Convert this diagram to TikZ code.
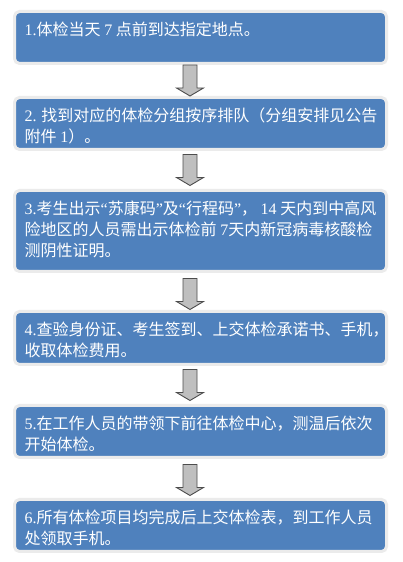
\documentclass[tikz,border=0pt]{standalone}
\usepackage{fontspec}
\newfontfamily\cjk{Noto Sans CJK SC}
\newfontfamily\lat{Liberation Serif}
\usetikzlibrary{calc}
\definecolor{boxblue}{HTML}{4F81BD}
\definecolor{glowgray}{HTML}{EBEBEB}
\definecolor{arrowfill}{HTML}{BFBFBF}
\definecolor{arrowline}{HTML}{4D4D4D}
\begin{document}
\begin{tikzpicture}[x=1pt,y=1pt,
  stepbox/.style={draw=glowgray, line width=3pt, fill=boxblue, rounded corners=5pt,
    minimum width=372pt, inner sep=0pt},
  steptext/.style={anchor=north west, inner sep=0pt, align=left, text=white,
    font=\fontsize{16pt}{21pt}\selectfont\cjk},
  blockarrow/.pic={\draw[fill=arrowfill, draw=arrowline, line width=0.9pt, line join=miter]
    (-7,0) -- (-7,-23) -- (-13.5,-23) -- (0,-31) -- (13.5,-23) -- (7,-23) -- (7,0) -- cycle;}
]
\useasboundingbox (0,0) rectangle (403,562);
\fill[white] (0,0) rectangle (403,562);

\node[stepbox, minimum height=52pt] (b1) at (200.5,524.5) {};
\node[stepbox, minimum height=52pt] (b2) at (200.5,438.5) {};
\node[stepbox, minimum height=81pt] (b3) at (200.5,331) {};
\node[stepbox, minimum height=53pt] (b4) at (200.5,224) {};
\node[stepbox, minimum height=52pt] (b5) at (200.5,130.5) {};
\node[stepbox, minimum height=52pt] (b6) at (200.5,36.5) {};

\node[steptext] (t1) at ($(b1.north west)+(11.5,-12)$) {{\lat 1.}体检当天 {\lat 7} 点前到达指定地点。};
\node[steptext] (t2) at ($(b2.north west)+(11.5,-12)$) {{\lat 2.} 找到对应的体检分组按序排队（分组安排见公告\\附件 {\lat 1}）。};
\node[steptext] (t3) at ($(b3.north west)+(11.5,-12)$) {{\lat 3.}考生出示{\lat “}苏康码{\lat ”}及{\lat “}行程码{\lat ”}， {\lat 14} 天内到中高风\\险地区的人员需出示体检前 {\lat 7}天内新冠病毒核酸检\\测阴性证明。};
\node[steptext] (t4) at ($(b4.north west)+(11.5,-12)$) {{\lat 4.}查验身份证、考生签到、上交体检承诺书、手机，\\收取体检费用。};
\node[steptext] (t5) at ($(b5.north west)+(11.5,-12)$) {{\lat 5.}在工作人员的带领下前往体检中心，测温后依次\\开始体检。};
\node[steptext] (t6) at ($(b6.north west)+(11.5,-12)$) {{\lat 6.}所有体检项目均完成后上交体检表，到工作人员\\处领取手机。};

\path ($(b1.south)+(-10.5,0)$) pic {blockarrow};
\path ($(b2.south)+(-10.5,-3.5)$) pic {blockarrow};
\path ($(b3.south)+(-10.5,-5.5)$) pic {blockarrow};
\path ($(b4.south)+(-10.5,-3.5)$) pic {blockarrow};
\path ($(b5.south)+(-10.5,-5.5)$) pic {blockarrow};
\end{tikzpicture}
\end{document}
